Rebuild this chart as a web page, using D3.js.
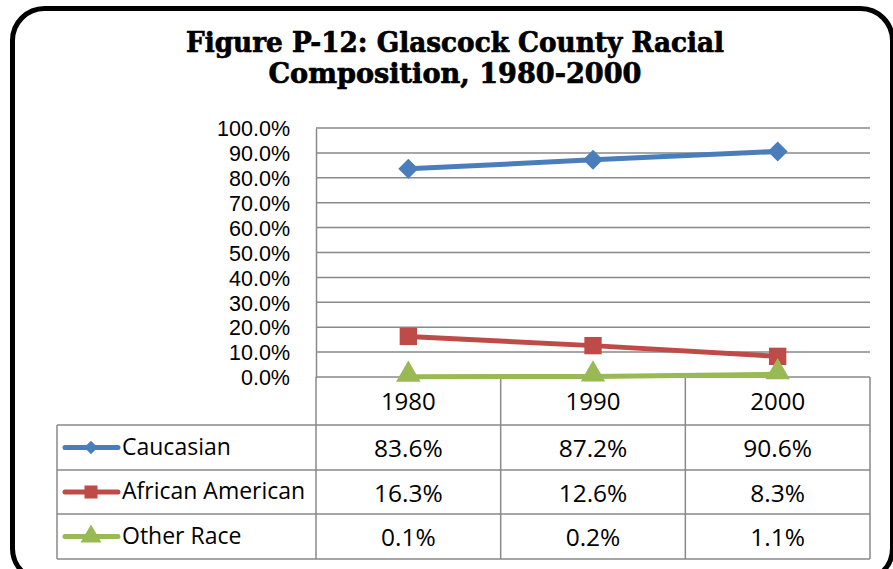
<!DOCTYPE html>
<html>
<head>
<meta charset="utf-8">
<title>Glascock County Racial Composition</title>
<script src="https://d3js.org/d3.v7.min.js"></script>
<style>
  body { margin: 0; background: #fff; }
  text { font-family: "Open Sans", "Liberation Sans", sans-serif; fill: #000; }
</style>
</head>
<body>
<script>
// data
var years = ["1980", "1990", "2000"];
var seriesNames = ["Caucasian", "African American", "Other Race"];
var caucasian = [83.6, 87.2, 90.6];
var african = [16.3, 12.6, 8.3];
var other = [0.1, 0.2, 1.1];
var yTicks = [0, 10, 20, 30, 40, 50, 60, 70, 80, 90, 100];
var titleLines = ["Figure P-12: Glascock County Racial", "Composition, 1980-2000"];

var colors = ["#4a7ebb", "#be4b48", "#98b954"];
var allSeries = [caucasian, african, other];
var fs = "24.5px"; // table text

var W = 893, H = 569;
var svg = d3.select("body").append("svg").attr("width", W).attr("height", H);

// frame
svg.append("rect")
  .attr("x", 12.5).attr("y", 8.5)
  .attr("width", 880).attr("height", 572)
  .attr("rx", 32).attr("ry", 32)
  .attr("fill", "none").attr("stroke", "#000").attr("stroke-width", 5);

// title
svg.selectAll("text.title").data(titleLines).enter().append("text")
  .attr("class", "title")
  .attr("x", 455)
  .attr("y", function (d, i) { return 52 + i * 31; })
  .attr("text-anchor", "middle")
  .style("font-family", "'DejaVu Serif', serif")
  .style("font-weight", "bold")
  .style("font-size", "27px")
  .style("stroke", "#000").style("stroke-width", 0.7)
  .attr("textLength", function (d, i) { return i == 0 ? 538 : 373; })
  .attr("lengthAdjust", "spacingAndGlyphs")
  .text(function (d) { return d; });

var plotLeft = 316, plotRight = 870, plotTop = 128, plotBottom = 377;
var x = d3.scaleBand().domain(years).range([plotLeft, plotRight]);
var y = d3.scaleLinear().domain([0, 100]).range([plotBottom, plotTop]);

var gridColor = "#898989";

// gridlines
svg.append("g").selectAll("line").data(yTicks).enter().append("line")
  .attr("x1", plotLeft).attr("x2", plotRight)
  .attr("y1", function (d) { return y(d); })
  .attr("y2", function (d) { return y(d); })
  .attr("stroke", gridColor).attr("stroke-width", 1.5);

// y axis
var yAxis = svg.append("g")
  .attr("transform", "translate(" + plotLeft + ",0)")
  .call(d3.axisLeft(y).tickValues(yTicks).tickSize(0).tickPadding(26)
    .tickFormat(function (d) { return d.toFixed(1) + "%"; }));
yAxis.select(".domain").attr("stroke", gridColor).attr("stroke-width", 1.5);
yAxis.selectAll("text").style("font-size", "21.5px").style("font-family", "'Liberation Sans', sans-serif").attr("dy", "0.36em");

// data table
var rowTops = [377, 425, 470, 514, 559];
var tableLeft = 57;
var tbl = svg.append("g").attr("stroke", gridColor).attr("stroke-width", 1.5);
tbl.selectAll("line.h").data(rowTops.slice(1)).enter().append("line")
  .attr("x1", tableLeft).attr("x2", plotRight)
  .attr("y1", function (d) { return d; }).attr("y2", function (d) { return d; });
var colEdges = [plotLeft].concat(years.map(function (d) { return x(d) + x.bandwidth(); }));
tbl.selectAll("line.v").data(colEdges).enter().append("line")
  .attr("x1", function (d) { return d; }).attr("x2", function (d) { return d; })
  .attr("y1", plotBottom).attr("y2", rowTops[4]);
tbl.append("line")
  .attr("x1", tableLeft).attr("x2", tableLeft)
  .attr("y1", rowTops[1]).attr("y2", rowTops[4]);

// year labels
svg.selectAll("text.year").data(years).enter().append("text")
  .attr("x", function (d) { return x(d) + x.bandwidth() / 2; })
  .attr("y", (rowTops[0] + rowTops[1]) / 2 + 1)
  .attr("dy", "0.35em")
  .attr("text-anchor", "middle")
  .style("font-size", "24px")
  .text(function (d) { return d; });

// marker shapes: diamond is a square turned 45 degrees
function marker(s, big) {
  if (s == 0) return { d: d3.symbol().type(d3.symbolSquare).size(big ? 200 : 90)(), rot: 45 };
  if (s == 1) return { d: d3.symbol().type(d3.symbolSquare).size(big ? 300 : 170)(), rot: 0 };
  return { d: d3.symbol().type(d3.symbolTriangle).size(big ? 260 : 190)(), rot: 0 };
}

// table values + legend
allSeries.forEach(function (vals, s) {
  var cy = (rowTops[s + 1] + rowTops[s + 2]) / 2;
  svg.selectAll("text.v" + s).data(vals).enter().append("text")
    .attr("x", function (d, i) { return x(years[i]) + x.bandwidth() / 2; })
    .attr("y", cy + 1).attr("dy", "0.35em")
    .attr("text-anchor", "middle")
    .style("font-size", fs)
    .text(function (d) { return d.toFixed(1) + "%"; });

  svg.append("line")
    .attr("x1", 65).attr("x2", 118).attr("y1", cy).attr("y2", cy)
    .attr("stroke", colors[s]).attr("stroke-width", 5).attr("stroke-linecap", "round");
  var m = marker(s, false);
  svg.append("path")
    .attr("d", m.d)
    .attr("transform", "translate(91," + cy + ") rotate(" + m.rot + ")")
    .attr("fill", colors[s]);
  svg.append("text")
    .attr("x", 122).attr("y", cy - 1).attr("dy", "0.35em")
    .style("font-size", "23px")
    .text(seriesNames[s]);
});

// lines and markers
var line = d3.line()
  .x(function (d, i) { return x(years[i]) + x.bandwidth() / 2; })
  .y(function (d) { return y(d); });

allSeries.forEach(function (vals, s) {
  svg.append("path")
    .datum(vals)
    .attr("d", line)
    .attr("fill", "none")
    .attr("stroke", colors[s])
    .attr("stroke-width", 5)
    .attr("stroke-linejoin", "round");
  var m = marker(s, true);
  svg.selectAll("path.m" + s).data(vals).enter().append("path")
    .attr("d", m.d)
    .attr("transform", function (d, i) {
      return "translate(" + (x(years[i]) + x.bandwidth() / 2) + "," + (y(d) - (s == 2 ? 2 : 0)) + ") rotate(" + m.rot + ")";
    })
    .attr("fill", colors[s]);
});
</script>
</body>
</html>
